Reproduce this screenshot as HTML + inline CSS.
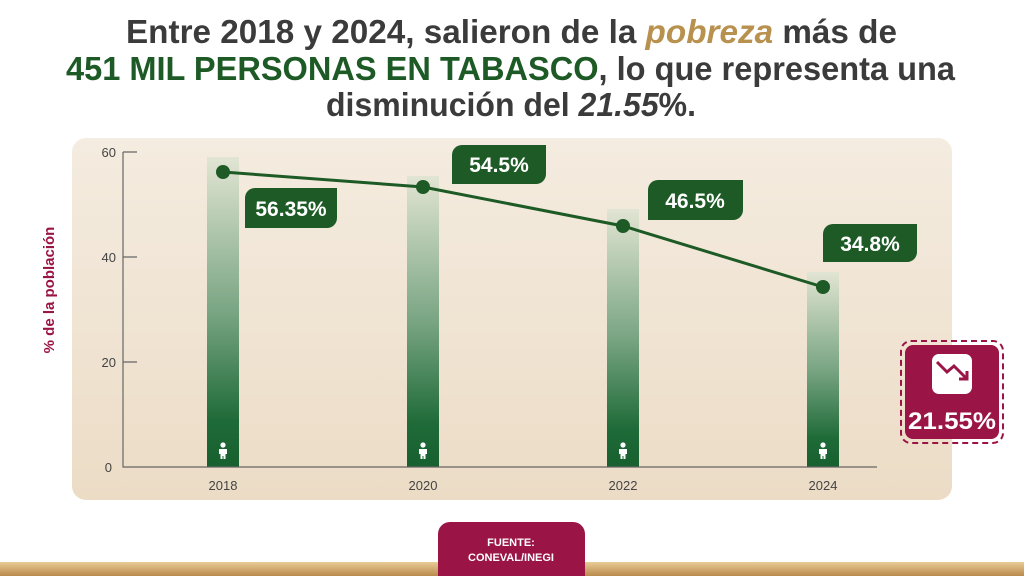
<!DOCTYPE html>
<html><head><meta charset="utf-8"><style>
html,body{margin:0;padding:0;background:#fff;width:1024px;height:576px;overflow:hidden}
svg{display:block}
text{font-family:"Liberation Sans",sans-serif}
</style></head><body>
<svg width="1024" height="576" viewBox="0 0 1024 576" xmlns="http://www.w3.org/2000/svg">
<defs>
<linearGradient id="panel" x1="0" y1="0" x2="0" y2="1"><stop offset="0" stop-color="#f4ece0"/><stop offset="1" stop-color="#ecdcc6"/></linearGradient>
<linearGradient id="bar" x1="0" y1="0" x2="0" y2="1"><stop offset="0" stop-color="#e2e5d3"/><stop offset="0.5" stop-color="#79a583"/><stop offset="0.85" stop-color="#1f6b38"/><stop offset="1" stop-color="#17602f"/></linearGradient>
<linearGradient id="gold" x1="0" y1="0" x2="0" y2="1"><stop offset="0" stop-color="#e9cc96"/><stop offset="1" stop-color="#b98a4c"/></linearGradient>
<g id="kid"><circle cx="0" cy="-7" r="2.6" fill="#fff"/><path d="M-4,-3 h8 v5 h-1.5 v5 h-2 v-3 h-1 v3 h-2 v-5 h-1.5z" fill="#fff"/></g>
</defs>
<text x="126" y="43" font-size="33" font-weight="bold" fill="#3b3b3b" textLength="771" lengthAdjust="spacingAndGlyphs">Entre 2018 y 2024, salieron de la <tspan fill="#b8914f" font-style="italic">pobreza</tspan> más de</text>
<text x="66" y="80" font-size="33" font-weight="bold" fill="#3b3b3b" textLength="889" lengthAdjust="spacingAndGlyphs"><tspan fill="#1d5a25">451 MIL PERSONAS EN TABASCO</tspan>, lo que representa una</text>
<text x="326" y="116" font-size="33" font-weight="bold" fill="#3b3b3b" textLength="370" lengthAdjust="spacingAndGlyphs">disminución del <tspan font-style="italic">21.55</tspan>%.</text>
<rect x="72" y="138" width="880" height="362" rx="14" fill="url(#panel)"/>
<rect x="207" y="157" width="32" height="310" fill="url(#bar)"/>
<rect x="407" y="176" width="32" height="291" fill="url(#bar)"/>
<rect x="607" y="209" width="32" height="258" fill="url(#bar)"/>
<rect x="807" y="272" width="32" height="195" fill="url(#bar)"/>
<use href="#kid" x="223" y="452"/><use href="#kid" x="423" y="452"/><use href="#kid" x="623" y="452"/><use href="#kid" x="823" y="452"/>
<g stroke="#666" stroke-width="1.2" fill="none">
<path d="M123,152 V467 H877"/>
<path d="M123,152 h14 M123,257 h14 M123,362 h14"/>
</g>
<g font-size="13" fill="#444" text-anchor="end">
<text x="116" y="157">60</text><text x="116" y="262">40</text><text x="116" y="367">20</text><text x="112" y="472">0</text>
</g>
<g font-size="13" fill="#444" text-anchor="middle">
<text x="223" y="490">2018</text><text x="423" y="490">2020</text><text x="623" y="490">2022</text><text x="823" y="490">2024</text>
</g>
<text transform="translate(54,290) rotate(-90)" font-size="15" font-weight="bold" fill="#9b1446" text-anchor="middle">% de la población</text>
<polyline points="223,172 423,187 623,226 823,287" fill="none" stroke="#1d5a25" stroke-width="3"/>
<g fill="#1d5a25"><circle cx="223" cy="172" r="7"/><circle cx="423" cy="187" r="7"/><circle cx="623" cy="226" r="7"/><circle cx="823" cy="287" r="7"/></g>
<g fill="#1d5a25">
<path d="M255,188 h82 v30 a10,10 0 0 1 -10,10 h-82 v-30 a10,10 0 0 1 10,-10z"/>
<path d="M462,145 h84 v29 a10,10 0 0 1 -10,10 h-84 v-29 a10,10 0 0 1 10,-10z"/>
<path d="M658,180 h85 v30 a10,10 0 0 1 -10,10 h-85 v-30 a10,10 0 0 1 10,-10z"/>
<path d="M833,224 h84 v28 a10,10 0 0 1 -10,10 h-84 v-28 a10,10 0 0 1 10,-10z"/>
</g>
<g font-size="21" font-weight="bold" fill="#fff" text-anchor="middle">
<text x="291" y="216">56.35%</text><text x="499" y="172">54.5%</text><text x="695" y="208">46.5%</text><text x="870" y="251">34.8%</text>
</g>
<rect x="901" y="341" width="102" height="102" rx="10" fill="none" stroke="#9b1446" stroke-width="2" stroke-dasharray="6,4"/>
<rect x="905" y="345" width="94" height="94" rx="8" fill="#9b1446"/>
<rect x="932" y="354" width="40" height="40" rx="7" fill="#fff"/>
<path d="M937,362 l10,10 l7,-6 l12,12 M959,379 h8 v-8" fill="none" stroke="#9b1446" stroke-width="3"/>
<text x="952" y="429" font-size="24" font-weight="bold" fill="#fff" text-anchor="middle" textLength="88" lengthAdjust="spacingAndGlyphs">21.55%</text>
<rect x="0" y="562" width="1024" height="14" fill="url(#gold)"/>
<path d="M438,576 V534 a12,12 0 0 1 12,-12 h123 a12,12 0 0 1 12,12 V576z" fill="#9b1446"/>
<text x="511" y="546" font-size="11" font-weight="bold" fill="#fff" text-anchor="middle">FUENTE:</text>
<text x="511" y="561" font-size="11" font-weight="bold" fill="#fff" text-anchor="middle">CONEVAL/INEGI</text>
</svg>
</body></html>
